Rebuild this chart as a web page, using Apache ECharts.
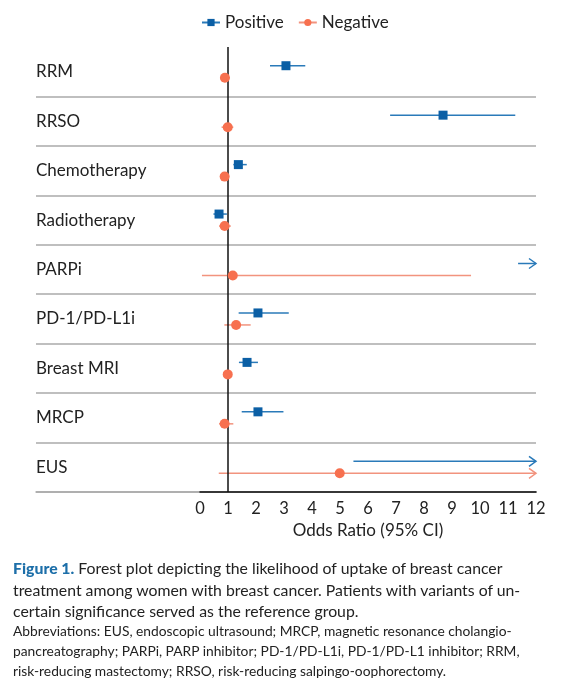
<!DOCTYPE html>
<html>
<head>
<meta charset="utf-8">
<script src="https://cdn.jsdelivr.net/npm/echarts@6/dist/echarts.min.js"></script>
<style>
  body { margin: 0; background: #fff; }
  #chart { width: 577px; height: 680px; }
  .cap { position: absolute; left: 13px; font-family: Lato, sans-serif; color: #222; white-space: nowrap; }
  .cap b { color: #1d6fa9; font-weight: 900; }
  #caption { top: 557px; font-size: 15.8px; line-height: 21.5px; }
  #abbrev { top: 621px; font-size: 13.8px; line-height: 20px; }
</style>
</head>
<body>
<div id="chart"></div>
<div id="caption" class="cap">
  <div><b>Figure 1.</b> Forest plot depicting the likelihood of uptake of breast cancer</div>
  <div>treatment among women with breast cancer. Patients with variants of un-</div>
  <div>certain significance served as the reference group.</div>
</div>
<div id="abbrev" class="cap">
  <div>Abbreviations: EUS, endoscopic ultrasound; MRCP, magnetic resonance cholangio-</div>
  <div>pancreatography; PARPi, PARP inhibitor; PD-1/PD-L1i, PD-1/PD-L1 inhibitor; RRM,</div>
  <div>risk-reducing mastectomy; RRSO, risk-reducing salpingo-oophorectomy.</div>
</div>
<script>
// rows top to bottom
const categories = ['RRM', 'RRSO', 'Chemotherapy', 'Radiotherapy', 'PARPi', 'PD-1/PD-L1i', 'Breast MRI', 'MRCP', 'EUS']

// odds ratio and 95% CI, null = off the axis (drawn as arrow)
const posOR   = [3.07, 8.68, 1.37, 0.68, null,  2.07, 1.68, 2.07, null]
const posLow  = [2.5,  6.79, 1.19, 0.48, 11.36, 1.38, 1.39, 1.49, 5.48]
const posHigh = [3.76, 11.26, 1.67, 0.96, null, 3.17, 2.07, 2.98, null]

const negOR   = [0.89, 0.99, 0.88, 0.88, 1.17, 1.29, 0.99, 0.88, 4.99]
const negLow  = [0.75, 0.77, 0.84, 0.68, 0.07, 0.87, 0.95, 0.68, 0.67]
const negHigh = [1.07, 1.19, 0.93, 1.1,  9.68, 1.81, 1.04, 1.19, null]

const xTicks = [0, 1, 2, 3, 4, 5, 6, 7, 8, 9, 10, 11, 12]
const xMax = xTicks[xTicks.length - 1]

const font = 'Lato, sans-serif'
const posLine = '#2a7ab9', posMark = '#0b5fa5'
const negLine = '#f2937e', negMark = '#f7704f'
const posOffset = -6, negOffset = 6

let chart = echarts.init(document.getElementById('chart'))

function barSeries(low, high, offset, color) {
  return {
    type: 'custom',
    xAxisIndex: 1,
    yAxisIndex: 1,
    silent: true,
    data: categories.map((c, i) => [low[i], high[i] == null ? xMax : high[i], i, high[i] == null ? 1 : 0]),
    renderItem(params, api) {
      let a = api.coord([api.value(0), api.value(2)])
      let b = api.coord([api.value(1), api.value(2)])
      let y = a[1] + offset
      let children = [{
        type: 'line',
        shape: { x1: a[0], y1: y, x2: b[0], y2: y },
        style: { stroke: color, lineWidth: 1.5 }
      }]
      if (api.value(3)) { // open-ended CI
        children.push({
          type: 'polyline',
          shape: { points: [[b[0] - 7, y - 5], [b[0], y], [b[0] - 7, y + 5]] },
          style: { stroke: color, lineWidth: 1.5, fill: null }
        })
      }
      return { type: 'group', children }
    }
  }
}

function pointSeries(name, values, offset, symbol, size, color, lineColor) {
  return {
    name,
    type: 'line',
    xAxisIndex: 1,
    yAxisIndex: 1,
    z: 5,
    symbol,
    symbolSize: size,
    symbolOffset: [0, offset],
    showSymbol: true,
    silent: true,
    itemStyle: { color },
    lineStyle: { width: 0, color: lineColor },
    data: categories.map((c, i) => values[i] == null ? [null, i] : [values[i], i])
  }
}

let option = {
  animation: false,
  legend: {
    top: 14,
    left: 201,
    padding: 0,
    itemWidth: 18,
    itemHeight: 9,
    itemGap: 14,
    textStyle: { fontFamily: font, fontSize: 17, color: '#222' },
    lineStyle: { width: 2 },
    data: ['Positive', 'Negative']
  },
  grid: [
    { left: 36, right: 41, top: 47, bottom: 188 },
    { left: 200, right: 41, top: 47, bottom: 188 }
  ],
  xAxis: [
    {
      gridIndex: 0, type: 'value', min: 0, max: 1,
      axisLine: { show: true, lineStyle: { color: '#aaa', width: 1.5 } },
      axisTick: { show: false }, axisLabel: { show: false }, splitLine: { show: false }
    },
    {
      gridIndex: 1, type: 'value', min: 0, max: xMax, interval: 1, z: 3,
      name: 'Odds Ratio (95% CI)',
      nameLocation: 'middle',
      nameGap: 27,
      nameTextStyle: { fontFamily: font, fontSize: 17, color: '#222' },
      axisLine: { show: true, lineStyle: { color: '#111', width: 1.5 } },
      axisTick: { show: false },
      axisLabel: { margin: 8, fontFamily: font, fontSize: 16.5, color: '#222' },
      splitLine: { show: false }
    }
  ],
  yAxis: [
    {
      gridIndex: 0, type: 'category', data: categories, inverse: true,
      axisLine: { show: false }, axisTick: { show: false },
      axisLabel: { align: 'left', margin: 0, fontFamily: font, fontSize: 17, color: '#222' },
      splitLine: {
        show: true,
        interval: (index) => index !== 0,
        lineStyle: { color: '#aaa', width: 1.5 }
      }
    },
    {
      gridIndex: 1, type: 'category', data: categories, inverse: true,
      show: false
    }
  ],
  series: [
    barSeries(posLow, posHigh, posOffset, posLine),
    barSeries(negLow, negHigh, negOffset, negLine),
    pointSeries('Positive', posOR, posOffset, 'rect', 9, posMark, posLine),
    Object.assign(pointSeries('Negative', negOR, negOffset, 'circle', 10, negMark, negLine), {
      markLine: {
        silent: true,
        symbol: 'none',
        label: { show: false },
        lineStyle: { color: '#111', width: 1.5, type: 'solid' },
        data: [{ xAxis: 1 }]
      }
    })
  ]
}

chart.setOption(option)
</script>
</body>
</html>
